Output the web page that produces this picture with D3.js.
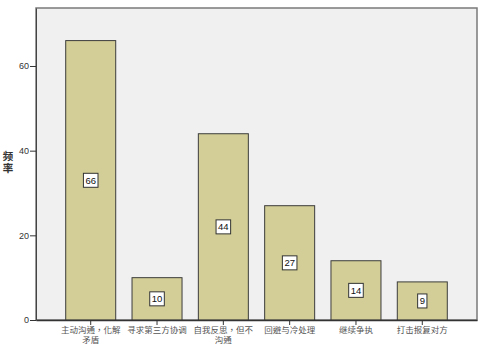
<!DOCTYPE html>
<html>
<head>
<meta charset="utf-8">
<script src="https://cdn.jsdelivr.net/npm/d3@7"></script>
<style>
  body { margin: 0; background: #fff; }
  svg { display: block; }
</style>
</head>
<body>
<div id="chart"></div>
<script>
const categories = ["主动沟通，化解矛盾", "寻求第三方协调", "自我反思，但不沟通", "回避与冷处理", "继续争执", "打击报复对方"];
const counts = [66, 10, 44, 27, 14, 9];
const yTicks = [0, 20, 40, 60];
const yTitleChars = ["频", "率"];

const W = 484, H = 345;
const margin = ({top: 8, right: 7, bottom: 25, left: 36});
const width = W - margin.left - margin.right;
const height = H - margin.top - margin.bottom;
// latin font first keeps the line boxes tight, CJK glyphs fall back to Noto
const cjk = '"Liberation Sans", "Noto Sans CJK TC", "Noto Sans CJK SC", sans-serif';

const svg = d3.select('#chart').append('svg')
    .attr('width', W)
    .attr('height', H);

const g = svg.append('g')
    .attr('transform', `translate(${margin.left},${margin.top})`);

const x = d3.scaleBand()
    .domain(categories)
    .range([0, width])
    .paddingInner(0.246)
    .paddingOuter(0.448);

const y = d3.scaleLinear()
    .domain([0, 73.7])
    .range([height, 0]);

// plot background + frame
g.append('rect')
    .attr('width', width)
    .attr('height', height)
    .attr('fill', '#f0f0f0')
    .attr('stroke', '#7a7a7a')
    .attr('stroke-width', 1.5);

// bars
g.selectAll('rect.bar')
    .data(counts)
    .enter()
    .append('rect')
    .attr('class', 'bar')
    .attr('x', (d, i) => x(categories[i]))
    .attr('y', d => y(d))
    .attr('width', x.bandwidth())
    .attr('height', d => y(0) - y(d))
    .attr('fill', '#d3ce97')
    .attr('stroke', '#3c3c3c')
    .attr('stroke-width', 1);

// value labels in boxes
const labels = g.selectAll('g.val')
    .data(counts)
    .enter()
    .append('g')
    .attr('class', 'val')
    .attr('transform', (d, i) => `translate(${x(categories[i]) + x.bandwidth() / 2},${(y(d) + y(0)) / 2})`);

labels.append('text')
    .attr('text-anchor', 'middle')
    .attr('dy', '0.35em')
    .style('font-family', 'Arial, "Liberation Sans", sans-serif')
    .style('font-size', '9.5px')
    .attr('fill', '#111')
    .text(d => d);

labels.each(function() {
    const gg = d3.select(this);
    const bb = gg.select('text').node().getBBox();
    gg.insert('rect', 'text')
        .attr('x', bb.x - 2)
        .attr('y', -7)
        .attr('width', bb.width + 4)
        .attr('height', 14)
        .attr('fill', '#fff')
        .attr('stroke', '#333')
        .attr('stroke-width', 1);
});

// y axis
const yAxis = g.append('g')
    .call(d3.axisLeft(y).tickValues(yTicks).tickSize(6).tickSizeOuter(0));
yAxis.select('.domain').attr('stroke', '#444');
yAxis.selectAll('.tick line').attr('stroke', '#333');
yAxis.selectAll('.tick text')
    .attr('x', -7)
    .style('font-family', 'Arial, "Liberation Sans", sans-serif')
    .style('font-size', '9px')
    .attr('fill', '#333');

// x axis
const xAxis = g.append('g')
    .attr('transform', `translate(0,${height})`)
    .call(d3.axisBottom(x).tickSize(5).tickSizeOuter(0));
xAxis.select('.domain').attr('stroke', '#333').attr('stroke-width', 1.5);
xAxis.selectAll('.tick line').attr('stroke', '#333');
xAxis.selectAll('.tick text').remove();

// wrapped category labels
const maxChars = 7;
xAxis.selectAll('.tick')
    .append('text')
    .attr('text-anchor', 'middle')
    .attr('y', 13)
    .style('font-family', cjk)
    .style('font-size', '8.5px')
    .attr('fill', '#555')
    .each(function(d) {
        const t = d3.select(this);
        const lines = [];
        for (let i = 0; i < d.length; i += maxChars) lines.push(d.slice(i, i + maxChars));
        lines.forEach((ln, k) => {
            t.append('tspan')
                .attr('x', 0)
                .attr('dy', k === 0 ? 0 : 9.8)
                .text(ln);
        });
    });

// y title, one upright character per line
svg.selectAll('text.ytitle')
    .data(yTitleChars)
    .enter()
    .append('text')
    .attr('class', 'ytitle')
    .attr('x', 8)
    .attr('y', (d, i) => 160 + i * 12)
    .attr('text-anchor', 'middle')
    .style('font-family', cjk)
    .style('font-size', '10.5px')
    .style('font-weight', 'bold')
    .attr('fill', '#333')
    .text(d => d);
</script>
</body>
</html>
